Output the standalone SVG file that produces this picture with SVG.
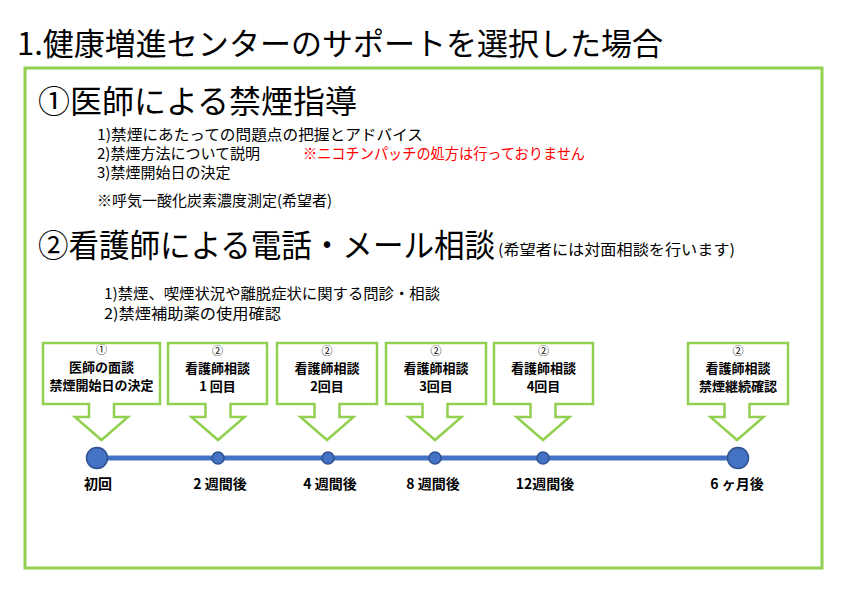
<svg xmlns="http://www.w3.org/2000/svg" width="850" height="600" viewBox="0 0 850 600">
<style>
text{font-family:"Noto Sans CJK JP","Noto Sans",sans-serif;fill:#000}
.t{font-size:31px}
.h{font-size:32px}
.i{font-size:15px}
.r{fill:#FF0000}
.s{font-size:15px}
.cb{fill:#fff;stroke:#92D050;stroke-width:2.5}
.bt{font-size:13px;font-weight:bold;text-anchor:middle}
.bn{font-size:11px;text-anchor:middle}
.lb{font-size:14px;font-weight:bold;text-anchor:middle}
.dot{fill:#4472C4;stroke:#2F528F;stroke-width:1.5}
</style>
<rect width="850" height="600" fill="#fff"/>
<text id="title" class="t" x="17" y="55" textLength="646" lengthAdjust="spacingAndGlyphs">1.健康増進センターのサポートを選択した場合</text>
<rect id="frame" x="25" y="68" width="797" height="500" fill="none" stroke="#92D050" stroke-width="3"/>
<g id="section1">
<text class="h" x="38" y="113" textLength="319" lengthAdjust="spacingAndGlyphs">①医師による禁煙指導</text>
<text class="i" x="97" y="140" textLength="326" lengthAdjust="spacingAndGlyphs">1)禁煙にあたっての問題点の把握とアドバイス</text>
<text class="i" x="97" y="159">2)禁煙方法について説明</text>
<text class="i r" x="303" y="159" textLength="282" lengthAdjust="spacingAndGlyphs">※ニコチンパッチの処方は行っておりません</text>
<text class="i" x="97" y="178">3)禁煙開始日の決定</text>
<text class="i" x="97" y="206" font-size="14">※呼気一酸化炭素濃度測定(希望者)</text>
</g>
<g id="section2">
<text class="h" x="38" y="257" textLength="457" lengthAdjust="spacingAndGlyphs">②看護師による電話・メール相談</text>
<text class="s" x="498" y="255" textLength="237" lengthAdjust="spacingAndGlyphs">(希望者には対面相談を行います)</text>
<text class="i" x="104" y="299" font-size="14" textLength="336" lengthAdjust="spacingAndGlyphs">1)禁煙、喫煙状況や離脱症状に関する問診・相談</text>
<text class="i" x="104" y="319" font-size="14" textLength="177" lengthAdjust="spacingAndGlyphs">2)禁煙補助薬の使用確認</text>
</g>
<g id="connectors">
<line x1="97" y1="458" x2="738" y2="458" stroke="#4472C4" stroke-width="5"/>
</g>
<g id="n1">
<path class="cb" d="M43,343 H160 V404 H114 V417 H128 L101.5,440 L75,417 H89 V404 H43 Z"/>
<text class="bn" x="101.5" y="354">①</text>
<text class="bt" x="101.5" y="372">医師の面談</text>
<text class="bt" x="101.5" y="390">禁煙開始日の決定</text>
<circle class="dot" cx="97" cy="458" r="10.5"/>
<text class="lb" x="98" y="489">初回</text>
</g>
<g id="n2">
<path class="cb" d="M168,343 H267 V404 H230.5 V417 H244.5 L218,440 L191.5,417 H205.5 V404 H168 Z"/>
<text class="bn" x="217.5" y="355">②</text>
<text class="bt" x="217.5" y="373">看護師相談</text>
<text class="bt" x="217.5" y="391">1 回目</text>
<circle class="dot" cx="218" cy="458" r="6"/>
<text class="lb" x="220" y="489">2 週間後</text>
</g>
<g id="n3">
<path class="cb" d="M277,343 H377 V404 H339.5 V417 H353.5 L327,440 L300.5,417 H314.5 V404 H277 Z"/>
<text class="bn" x="327" y="355">②</text>
<text class="bt" x="327" y="373">看護師相談</text>
<text class="bt" x="327" y="391">2回目</text>
<circle class="dot" cx="328" cy="458" r="6"/>
<text class="lb" x="330" y="489">4 週間後</text>
</g>
<g id="n4">
<path class="cb" d="M386,343 H486 V404 H447.5 V417 H461.5 L435,440 L408.5,417 H422.5 V404 H386 Z"/>
<text class="bn" x="436" y="355">②</text>
<text class="bt" x="436" y="373">看護師相談</text>
<text class="bt" x="436" y="391">3回目</text>
<circle class="dot" cx="435" cy="458" r="6"/>
<text class="lb" x="433" y="489">8 週間後</text>
</g>
<g id="n5">
<path class="cb" d="M494,343 H593 V404 H555.5 V417 H569.5 L543,440 L516.5,417 H530.5 V404 H494 Z"/>
<text class="bn" x="543.5" y="355">②</text>
<text class="bt" x="543.5" y="373">看護師相談</text>
<text class="bt" x="543.5" y="391">4回目</text>
<circle class="dot" cx="543" cy="458" r="6"/>
<text class="lb" x="545" y="489">12週間後</text>
</g>
<g id="n6">
<path class="cb" d="M688,343 H788 V404 H749.5 V417 H763.5 L737,440 L710.5,417 H724.5 V404 H688 Z"/>
<text class="bn" x="738" y="355">②</text>
<text class="bt" x="738" y="373">看護師相談</text>
<text class="bt" x="738" y="391">禁煙継続確認</text>
<circle class="dot" cx="738" cy="458" r="10.5"/>
<text class="lb" x="737" y="489">6 ヶ月後</text>
</g>
</svg>
